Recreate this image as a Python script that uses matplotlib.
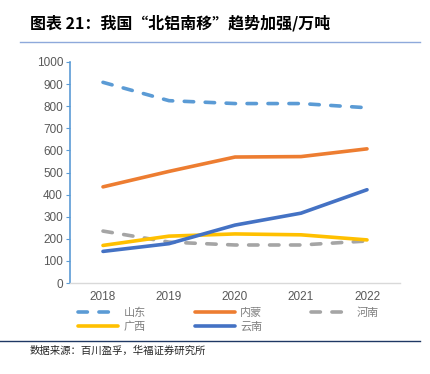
import matplotlib.pyplot as plt
from matplotlib.lines import Line2D

plt.rcParams['font.family'] = ['Liberation Sans', 'Noto Sans CJK SC', 'DejaVu Sans']

years = ['2018', '2019', '2020', '2021', '2022']
shandong = [908, 825, 812, 812, 793]
neimeng = [435, 505, 570, 572, 607]
henan = [235, 185, 172, 172, 190]
guangxi = [170, 212, 222, 218, 195]
yunnan = [143, 178, 262, 316, 422]

series = [
    ('山东', shandong, '#5B9BD5', True),
    ('内蒙', neimeng, '#ED7D31', False),
    ('河南', henan, '#A5A5A5', True),
    ('广西', guangxi, '#FFC000', False),
    ('云南', yunnan, '#4472C4', False),
]

fig = plt.figure(figsize=(4.3, 3.74), dpi=100)
ax = fig.add_axes([70 / 430, 1 - 283 / 374, 330 / 430, 221 / 374])

x = range(len(years))
lines = []
for name, vals, color, dashed in series:
    ln, = ax.plot(x, vals, color=color, lw=2.6, solid_capstyle='round',
                  dash_capstyle='round', label=name)
    if dashed:
        ln.set_dashes((2.6, 3.2))
    lines.append(ln)

ax.set_xlim(-0.5, 4.5)
ax.set_ylim(0, 1000)
ax.set_yticks(range(0, 1001, 100))
ax.set_xticks(list(x))
ax.set_xticklabels(years)
ax.tick_params(axis='y', colors='#595959', labelsize=8.5, length=3, width=0.8,
               color='#5B9BD5', pad=2)
ax.tick_params(axis='x', colors='#595959', labelsize=8.5, length=0, pad=6)
for s in ['top', 'right']:
    ax.spines[s].set_visible(False)
ax.spines['left'].set_color('#5B9BD5')
ax.spines['left'].set_linewidth(1.2)
ax.spines['bottom'].set_color('#D9D9D9')
ax.spines['bottom'].set_linewidth(1.0)

# legend fills column by column, so reorder to get row-wise layout
order = [0, 3, 1, 4, 2]
leg = ax.legend([lines[i] for i in order], [series[i][0] for i in order],
                loc='upper left', bbox_to_anchor=(0.024, -0.11), ncol=3,
                frameon=False, handlelength=3.6, columnspacing=4.4,
                handletextpad=0.5, labelspacing=0.35, borderpad=0,
                borderaxespad=0,
                prop={'family': ['Noto Sans CJK SC'], 'size': 8})
for t in leg.get_texts():
    t.set_color('#7F7F7F')

fig.text(30 / 430, 1 - 23 / 374, '图表 21：我国“北铝南移”趋势加强/万吨',
         fontsize=11.5, fontweight='bold', va='center',
         family=['Noto Sans CJK SC'])
fig.add_artist(Line2D([20 / 430, 420 / 430], [1 - 42 / 374] * 2,
                      color='#8EA9DB', lw=1.0))
fig.add_artist(Line2D([0, 420 / 430], [1 - 341 / 374] * 2,
                      color='#1F3864', lw=1.0))
fig.text(30 / 430, 1 - 351 / 374, '数据来源：百川盈孚，华福证券研究所',
         fontsize=7.5, va='center', color='#262626',
         family=['Noto Sans CJK SC'])

fig.savefig('out.png', dpi=100)
